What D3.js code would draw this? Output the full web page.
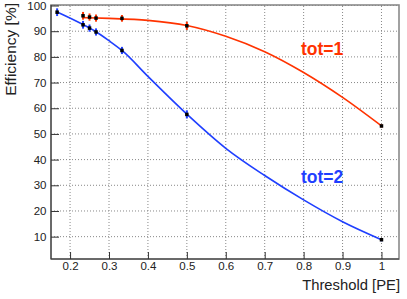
<!DOCTYPE html>
<html lang="en">
<head>
	<title>Efficiency vs threshold</title>
	<script src="https://d3js.org/d3.v7.min.js" charset="utf-8"></script>
	<style>
		body { margin: 0; background: #fff; }
		text { font-family: "Liberation Sans", Arial, sans-serif; }
	</style>
</head>
<body>
	<script>
    // thresholds of the measured points
    var thresholds = [0.1667, 0.2333, 0.25, 0.2667, 0.3333, 0.5, 1.0];

    // tot=1 (red), no point at the lowest threshold
    var tot1X   = [0.2333, 0.25, 0.2667, 0.3333, 0.5, 1.0];
    var tot1Eff = [96.0, 95.5, 95.1, 95.0, 92.1, 53.1];
    var tot1Err = [1.5, 1.4, 1.4, 1.3, 1.6, 0.6];

    // tot=2 (blue)
    var tot2X   = thresholds;
    var tot2Eff = [97.4, 92.5, 91.2, 89.7, 82.5, 57.6, 8.8];
    var tot2Err = [1.5, 1.5, 1.4, 1.4, 1.4, 1.6, 0.6];

    // fitted curves
    var fit1X = [0.2333, 0.3, 0.4, 0.5, 0.6, 0.7, 0.8, 0.9, 1.0];
    var fit1Y = [95.3, 95.0, 94.2, 92.2, 88.0, 82.0, 73.9, 64.2, 53.1];
    var fit2X = [0.1667, 0.2333, 0.2667, 0.3, 0.3333, 0.4, 0.5, 0.6, 0.7, 0.8, 0.9, 1.0];
    var fit2Y = [97.5, 92.6, 89.8, 86.3, 82.5, 72.4, 57.7, 44.4, 33.8, 24.3, 15.8, 8.8];

    var xTicks = [0.2, 0.3, 0.4, 0.5, 0.6, 0.7, 0.8, 0.9, 1.0];
    var yTicks = [10, 20, 30, 40, 50, 60, 70, 80, 90, 100];

    var width = 407,
        height = 299;

    var red = "#ff3300",
        blue = "#1f3fff";

    var x = d3.scaleLinear()
        .domain([0.151, 1.045])
        .range([51, 399]);

    var y = d3.scaleLinear()
        .domain([1.3, 100.2])
        .range([259, 5]);

    var svg = d3.select("body").append("svg")
        .attr("width", width)
        .attr("height", height);

    // grid
    svg.append("g").selectAll("line")
        .data(xTicks)
        .enter().append("line")
          .attr("x1", function(d) { return x(d); })
          .attr("x2", function(d) { return x(d); })
          .attr("y1", y.range()[0])
          .attr("y2", y.range()[1])
          .attr("stroke", "#888")
          .attr("stroke-dasharray", "1,2");

    svg.append("g").selectAll("line")
        .data(yTicks)
        .enter().append("line")
          .attr("x1", x.range()[0])
          .attr("x2", x.range()[1])
          .attr("y1", function(d) { return y(d); })
          .attr("y2", function(d) { return y(d); })
          .attr("stroke", "#888")
          .attr("stroke-dasharray", "1,2");

    // frame (top and right sides grey)
    svg.append("rect")
        .attr("x", x.range()[0])
        .attr("y", y.range()[1])
        .attr("width", x.range()[1] - x.range()[0])
        .attr("height", y.range()[0] - y.range()[1])
        .attr("fill", "none")
        .attr("stroke", "#8a8a8a")
        .attr("stroke-width", 1.6);

    // axes, ticks pointing into the frame
    var xMinor = d3.range(0.16, 1.045, 0.02);
    var yMinor = d3.range(2, 100.5, 2);

    var xAxis = svg.append("g")
        .attr("transform", "translate(0," + y.range()[0] + ")");
    xAxis.call(d3.axisBottom(x).tickValues(xMinor).tickSize(-3.5).tickFormat(""));
    xAxis.call(d3.axisBottom(x).tickValues(xTicks).tickSize(-7).tickPadding(2.5)
        .tickFormat(function(d) { return d === 1 ? "1" : d3.format(".1f")(d); }));

    var yAxis = svg.append("g")
        .attr("transform", "translate(" + x.range()[0] + ",0)");
    yAxis.call(d3.axisLeft(y).tickValues(yMinor).tickSize(-4).tickFormat(""));
    yAxis.call(d3.axisLeft(y).tickValues(yTicks).tickSize(-8).tickPadding(4.5));

    svg.selectAll(".domain").remove();
    svg.selectAll(".tick line").attr("stroke", "#333");
    svg.selectAll(".tick text")
        .attr("font-size", "11.5px")
        .attr("fill", "#222")
        .attr("font-family", "Liberation Sans, Arial, sans-serif");

    // axis lines
    svg.append("line")
        .attr("x1", x.range()[0]).attr("x2", x.range()[1])
        .attr("y1", y.range()[0]).attr("y2", y.range()[0])
        .attr("stroke", "#333");
    svg.append("line")
        .attr("x1", x.range()[0]).attr("x2", x.range()[0])
        .attr("y1", y.range()[0]).attr("y2", y.range()[1])
        .attr("stroke", "#333");

    // fitted curves
    var line = d3.line()
        .x(function(d) { return x(d[0]); })
        .y(function(d) { return y(d[1]); })
        .curve(d3.curveMonotoneX);

    svg.append("path")
        .datum(d3.zip(fit1X, fit1Y))
        .attr("d", line)
        .attr("fill", "none")
        .attr("stroke", red)
        .attr("stroke-width", 1.6);

    svg.append("path")
        .datum(d3.zip(fit2X, fit2Y))
        .attr("d", line)
        .attr("fill", "none")
        .attr("stroke", blue)
        .attr("stroke-width", 1.6);

    // points with error bars
    function drawPoints(xs, ys, errs, color) {
      var g = svg.append("g");
      var pts = d3.zip(xs, ys, errs);
      g.selectAll("line")
        .data(pts)
        .enter().append("line")
          .attr("x1", function(d) { return x(d[0]); })
          .attr("x2", function(d) { return x(d[0]); })
          .attr("y1", function(d) { return y(d[1] - d[2]); })
          .attr("y2", function(d) { return y(d[1] + d[2]); })
          .attr("stroke", color)
          .attr("stroke-width", 2);
      g.selectAll("rect")
        .data(pts)
        .enter().append("rect")
          .attr("x", function(d) { return x(d[0]) - 1.75; })
          .attr("y", function(d) { return y(d[1]) - 1.75; })
          .attr("width", 3.5)
          .attr("height", 3.5)
          .attr("fill", "#000");
    }
    drawPoints(tot1X, tot1Eff, tot1Err, red);
    drawPoints(tot2X, tot2Eff, tot2Err, blue);

    // labels
    svg.append("text")
        .attr("x", 301)
        .attr("y", 55)
        .attr("font-size", "17.5px")
        .attr("font-weight", "bold")
        .attr("fill", red)
        .text("tot=1");

    svg.append("text")
        .attr("x", 301)
        .attr("y", 183)
        .attr("font-size", "17.5px")
        .attr("font-weight", "bold")
        .attr("fill", blue)
        .text("tot=2");

    svg.append("text")
        .attr("x", 400)
        .attr("y", 290)
        .attr("text-anchor", "end")
        .attr("font-size", "14.8px")
        .attr("fill", "#222")
        .text("Threshold [PE]");

    svg.append("text")
        .attr("transform", "translate(16,3) rotate(-90)")
        .attr("text-anchor", "end")
        .attr("font-size", "15.5px")
        .attr("fill", "#222")
        .text("Efficiency [%]");
	</script>
</body>
</html>
